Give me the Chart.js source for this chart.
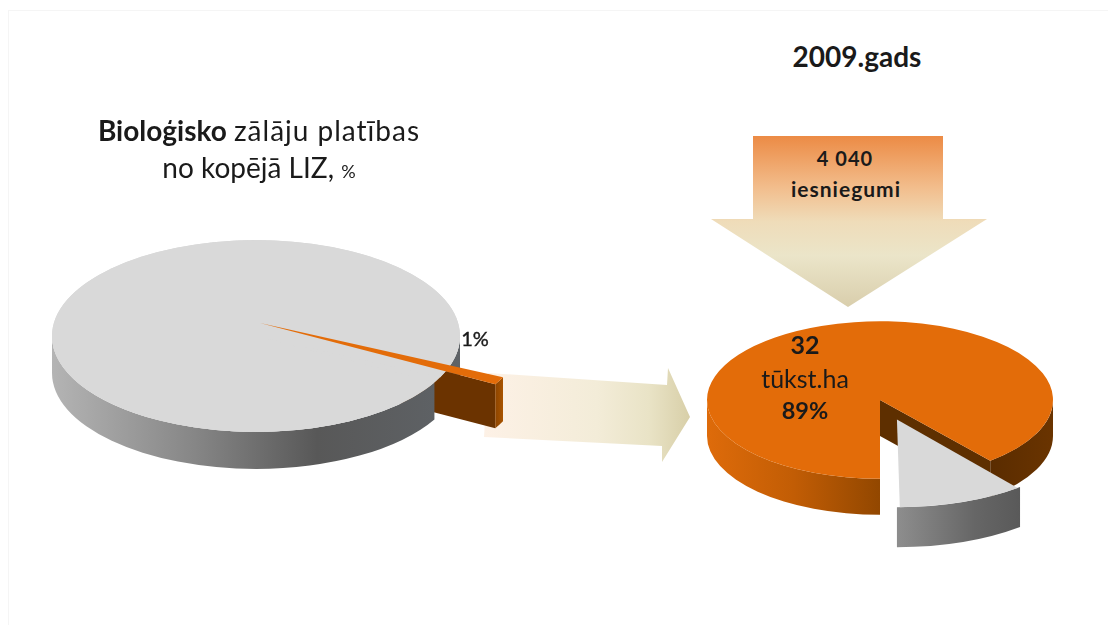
<!DOCTYPE html>
<html lang="lv">
<head>
<meta charset="utf-8">
<title>Bioloģisko zālāju platības</title>
<script src="https://cdn.jsdelivr.net/npm/chart.js@4"></script>
<style>
  html, body { margin: 0; padding: 0; background: #fff; }
  body { position: relative; width: 1109px; height: 626px; overflow: hidden; font-family: Lato, "Open Sans", sans-serif; color: #1a1a1a; }
  #frame { position: absolute; left: 8px; top: 10px; width: 1100px; height: 615px; border-left: 1px solid #f5f5f5; border-top: 1px solid #f5f5f5; box-sizing: border-box; }
  svg { position: absolute; left: 0; top: 0; }
  canvas { position: absolute; }
  #leftBox { position: absolute; left: 0; top: 46px; width: 512px; height: 580px; }
  #rightBox { position: absolute; left: 680px; top: 240px; width: 400px; height: 320px; }
  .txt { position: absolute; white-space: nowrap; transform: translate(-50%, -50%); line-height: 1; }
</style>
</head>
<body>
<div id="frame"></div>

<svg width="1109" height="626">
  <defs>
    <linearGradient id="downFill" x1="0" y1="0" x2="0" y2="1">
      <stop offset="0" stop-color="#ec8b45"/>
      <stop offset="0.3" stop-color="#f2bd8c"/>
      <stop offset="0.5" stop-color="#efdcb9"/>
      <stop offset="0.7" stop-color="#ebe5c9"/>
      <stop offset="1" stop-color="#d9ceac"/>
    </linearGradient>
    <linearGradient id="sideFill" x1="0" y1="0" x2="1" y2="0">
      <stop offset="0" stop-color="#fdf1e6"/>
      <stop offset="0.55" stop-color="#f3ecd8"/>
      <stop offset="0.8" stop-color="#e9e3c6"/>
      <stop offset="1" stop-color="#d8cfa8"/>
    </linearGradient>
  </defs>
  <polygon fill="url(#downFill)" points="753,136 943,136 943,219 987,219 848,307 711,219 753,219"/>
  <polygon fill="url(#sideFill)" points="488,373 667,385 668,368 690,417 662,462 662,446 484,437"/>
</svg>

<div id="leftBox"><canvas id="leftPie"></canvas></div>
<div id="rightBox"><canvas id="rightPie"></canvas></div>

<div class="txt" style="left:857px;top:56px;font-size:28px;font-weight:700;">2009.gads</div>
<div class="txt" style="left:259px;top:130px;font-size:28px;"><b>Bioloģisko</b> <span style="letter-spacing:1px;">zālāju platības</span></div>
<div class="txt" style="left:259px;top:167px;font-size:28px;">no kopējā LIZ, <span style="font-size:18px;">%</span></div>
<div class="txt" id="leftLabel" style="left:475px;top:338px;font-size:20px;-webkit-text-stroke:0.4px #1a1a1a;"></div>
<div class="txt" id="appLabel" style="left:845px;top:158px;font-size:20px;font-weight:700;letter-spacing:1px;"></div>
<div class="txt" style="left:846px;top:188px;font-size:21px;font-weight:700;letter-spacing:1px;">iesniegumi</div>
<div class="txt" id="haLabel" style="left:805px;top:344px;font-size:25px;font-weight:700;"></div>
<div class="txt" style="left:805px;top:378px;font-size:25px;">tūkst.ha</div>
<div class="txt" id="rightLabel" style="left:805px;top:411px;font-size:23.5px;font-weight:700;"></div>

<script>
const leftCategories = ["Pārējās platības", "Bioloģiskie zālāji"];
const leftValues = [99, 1];
const rightCategories = ["Bioloģiskie zālāji", "Pārējie"];
const rightValues = [89, 11];
const hectares = 32;
const applications = "4 040";

const GREY_TOP = "#d9d9d9";
const ORANGE_TOP = "#e36c09";

document.getElementById("leftLabel").textContent = `${leftValues[1]}%`;
document.getElementById("rightLabel").textContent = `${rightValues[0]}%`;
document.getElementById("haLabel").textContent = hectares;
document.getElementById("appLabel").textContent = applications;

// vieta uz ekrāna elipsei, kas pēc saspiešanas paliek no apļa
function sliceCenter(el, tilt, cy) {
  const mid = (el.startAngle + el.endAngle) / 2;
  const off = (el.options.offset || 0) / 4;
  return {
    x: el.x + Math.cos(mid) * off,
    y: cy + (el.y + Math.sin(mid) * off - cy) * tilt,
  };
}

// Chart.js izvilktam sektoram rādiusu vēl palielina
function drawnRadius(el) {
  const off = (el.options.offset || 0) / 4;
  return el.outerRadius + off * (1 - Math.sin(Math.min(Math.PI, el.circumference)));
}

function sideGradient(ctx, x0, x1, stops) {
  const g = ctx.createLinearGradient(x0, 0, x1, 0);
  stops.forEach((s) => g.addColorStop(s[0], s[1]));
  return g;
}

function drawWall(ctx, el, tilt, cy, a0, a1, depth, fill) {
  const c = sliceCenter(el, tilt, cy);
  const r = drawnRadius(el);
  ctx.beginPath();
  ctx.ellipse(c.x, c.y, r, r * tilt, 0, a0, a1);
  ctx.ellipse(c.x, c.y + depth, r, r * tilt, 0, a1, a0, true);
  ctx.closePath();
  ctx.fillStyle = fill;
  ctx.fill();
}

function drawCut(ctx, el, tilt, cy, angle, depth, fill) {
  const c = sliceCenter(el, tilt, cy);
  const r = drawnRadius(el);
  const ex = c.x + Math.cos(angle) * r;
  const ey = c.y + Math.sin(angle) * r * tilt;
  ctx.beginPath();
  ctx.moveTo(c.x, c.y);
  ctx.lineTo(ex, ey);
  ctx.lineTo(ex, ey + depth);
  ctx.lineTo(c.x, c.y + depth);
  ctx.closePath();
  ctx.fillStyle = fill;
  ctx.fill();
}

// Saspiež apli par elipsi un zem tā uzzīmē sānu sienas
function piePlugin(tilt, radii, shiftX, lift, drawSides) {
  return {
    id: "pie3d",
    afterDatasetsUpdate(chart) {
      const arcs = chart.getDatasetMeta(0).data;
      arcs.forEach((el, i) => {
        el.outerRadius = radii[i];
        el.x += shiftX[i];
        el.y -= lift[i] / tilt;
      });
    },
    beforeDatasetsDraw(chart) {
      const ctx = chart.ctx;
      const area = chart.chartArea;
      const cy = (area.top + area.bottom) / 2;
      const cx = (area.left + area.right) / 2;
      drawSides(ctx, chart.getDatasetMeta(0).data, tilt, cy);
      ctx.save();
      ctx.translate(cx, cy);
      ctx.scale(1, tilt);
      ctx.translate(-cx, -cy);
    },
    afterDatasetsDraw(chart) {
      chart.ctx.restore();
    },
  };
}

function makePie(id, labels, values, colors, rotation, offsets, plugin) {
  return new Chart(document.getElementById(id), {
    type: "pie",
    data: {
      labels: labels,
      datasets: [{
        data: values,
        backgroundColor: colors,
        borderWidth: 0,
        offset: offsets,
        clip: false,
      }],
    },
    options: {
      responsive: true,
      maintainAspectRatio: false,
      animation: false,
      events: [],
      rotation: rotation,
      layout: { padding: 0 },
      plugins: { legend: { display: false }, tooltip: { enabled: false } },
    },
    plugins: [plugin],
  });
}

function drawLeftSides(ctx, arcs, tilt, cy) {
  const grey = arcs[0];
  const orange = arcs[1];
  const depth = 37;
  const greyFill = sideGradient(ctx, 52, 460, [[0, "#b4b4b4"], [0.35, "#868686"], [0.65, "#585858"], [1, "#5f6367"]]);
  const s = orange.startAngle;
  const e = orange.endAngle;
  // aizmugurējā siena aiz izvilktā sektora
  drawWall(ctx, grey, tilt, cy, 0, s - 2 * Math.PI, depth, greyFill);
  drawCut(ctx, orange, tilt, cy, e, depth + 7, "#6b3300");
  const endFill = sideGradient(ctx, 490, 503, [[0, "#7a3b00"], [1, "#a95400"]]);
  drawWall(ctx, orange, tilt, cy, s - 2 * Math.PI, e - 2 * Math.PI, depth + 7, endFill);
  // priekšējā siena
  drawWall(ctx, grey, tilt, cy, grey.startAngle, Math.PI, depth, greyFill);
  // pilna virsma, lai pacelto sektoru neredz caur spraugu
  const c = sliceCenter(grey, tilt, cy);
  ctx.beginPath();
  ctx.ellipse(c.x, c.y, grey.outerRadius, grey.outerRadius * tilt, 0, 0, 2 * Math.PI);
  ctx.fillStyle = GREY_TOP;
  ctx.fill();
}

function drawRightSides(ctx, arcs, tilt, cy) {
  const orange = arcs[0];
  const grey = arcs[1];
  const depth = 36;
  // krāsu pārejas ir kanvas koordinātēs
  const frontFill = sideGradient(ctx, 27, 200, [[0, "#de6b0a"], [0.5, "#c25d05"], [1, "#924700"]]);
  const backFill = sideGradient(ctx, 310, 373, [[0, "#5a2c00"], [1, "#6a3400"]]);
  drawWall(ctx, orange, tilt, cy, Math.PI / 2, Math.PI, depth, frontFill);
  drawWall(ctx, orange, tilt, cy, 0, orange.endAngle - 2 * Math.PI, depth, backFill);
  drawCut(ctx, orange, tilt, cy, orange.endAngle, depth, "#5e2f00");
  const greyFill = sideGradient(ctx, 220, 345, [[0, "#8c8c8c"], [0.6, "#666666"], [1, "#585858"]]);
  drawWall(ctx, grey, tilt, cy, grey.startAngle - 2 * Math.PI, grey.endAngle - 2 * Math.PI, depth + 4, greyFill);
}

makePie("leftPie", leftCategories, leftValues, [GREY_TOP, ORANGE_TOP], 119, [0, 0],
  piePlugin(0.47, [204, 269], [0, 4], [0, 13], drawLeftSides));

makePie("rightPie", rightCategories, rightValues, [ORANGE_TOP, GREY_TOP], 180, [0, 200],
  piePlugin(0.455, [173, 175], [0, 0], [0, 2], drawRightSides));
</script>
</body>
</html>
